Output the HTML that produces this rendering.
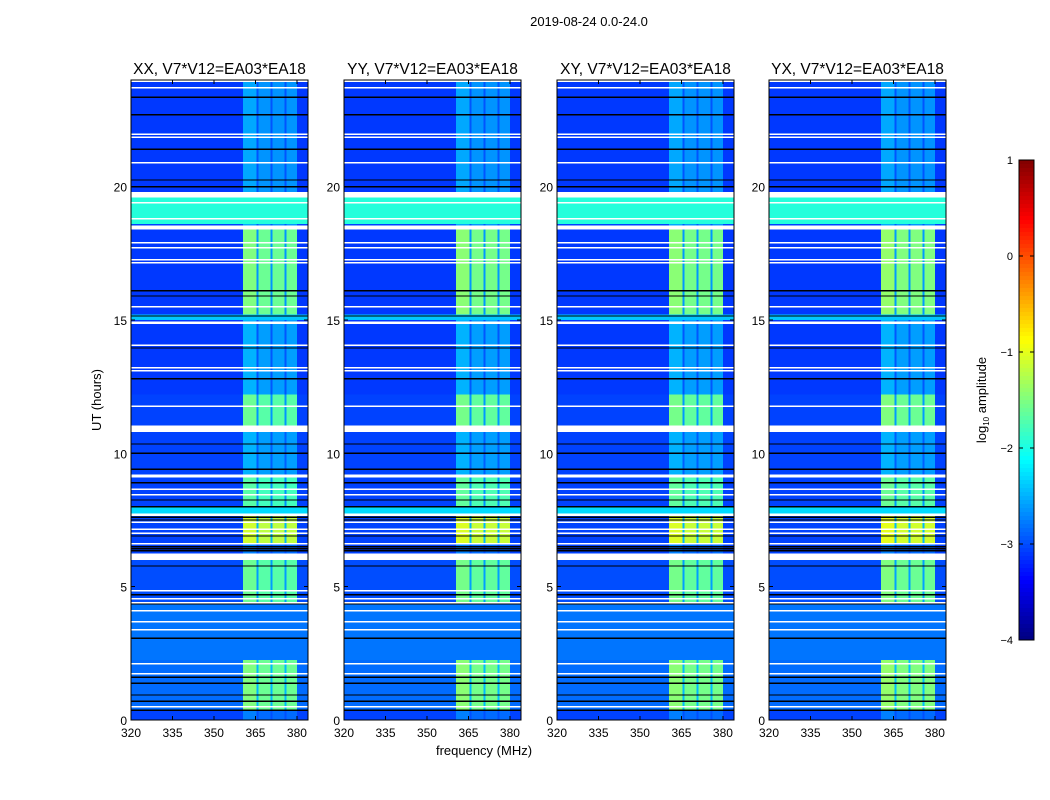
<!DOCTYPE html>
<html><head><meta charset="utf-8">
<style>
body{margin:0;background:#fff;font-family:"Liberation Sans",sans-serif;}
#root{position:relative;width:1050px;height:800px;overflow:hidden;background:#fff;}
svg text{font-family:"Liberation Sans",sans-serif;}
</style></head>
<body>
<div id="root">
<svg id="fig" width="1050" height="800" xmlns="http://www.w3.org/2000/svg" shape-rendering="crispEdges"></svg>
</div>
<script>
// ---- data ----
const panelTitles = ["XX, V7*V12=EA03*EA18","YY, V7*V12=EA03*EA18","XY, V7*V12=EA03*EA18","YX, V7*V12=EA03*EA18"];
const panelBandOffset = [0, 0.05, 0.05, 0.1];
const segStart = [19.6, 18.6, 18.4, 15.2, 15.0, 12.2, 10.9, 9.1, 8.0, 7.65, 6.6, 6.0, 4.4, 2.25, 0.35, 0];
const segEnd   = [24,   19.6, 18.6, 18.4, 15.2, 15.0, 12.2, 10.9, 9.1, 8.0, 7.65, 6.6, 6.0, 4.4, 2.25, 0.35];
const segBg    = [-3.1,-1.95,-3.05,-3.1,-2.4,-3.1,-3.05,-3.05,-3.05,-2.3,-3.05,-3.05,-3.0,-2.8,-2.85,-3.05];
const segBand  = [-2.65,-1.95,-2.65,-1.6,-2.4,-2.6,-1.7,-2.6,-1.8,-2.3,-1.2,-2.85,-1.7,-2.8,-1.6,-2.85];
const subBandLo = [360.5, 366.1, 371.2, 376.3];
const subBandHi = [365.3, 370.4, 375.5, 380.0];
const gapStart = [23.93,23.68,21.95,21.84,20.88,19.6,19.38,18.78,18.4,17.88,17.68,17.23,17.13,15.48,14.85,14.03,13.18,13.08,11.75,10.8,9.1,8.63,8.43,7.65,7.4,7.13,6.98,6.58,6.0,4.83,4.53,4.38,4.08,3.66,3.36,2.08,1.71,0.47];
const gapEnd   = [23.98,23.73,22.0,21.89,20.93,19.8,19.43,18.83,18.55,17.93,17.73,17.28,17.18,15.53,14.95,14.08,13.23,13.13,11.8,11.05,9.2,8.68,8.48,7.75,7.45,7.18,7.03,6.63,6.25,4.88,4.58,4.43,4.13,3.71,3.41,2.13,1.76,0.52];
const blackLines = [23.36,22.7,21.4,20.25,20.0,16.1,15.9,15.15,13.95,12.8,10.35,10.0,9.4,8.9,8.25,8.0,7.6,7.5,6.9,6.5,6.42,6.35,5.78,4.7,4.35,3.07,1.6,1.38,0.94,0.71,0.37];
const xTicks = [320,335,350,365,380];
const yTicks = [0,5,10,15,20];
const cbTicks = [1,0,-1,-2,-3,-4];

const NS="http://www.w3.org/2000/svg";
const svgRoot=document.getElementById('fig');
function el(tag,attrs,parent){const e=document.createElementNS(NS,tag);for(const k in attrs)e.setAttribute(k,attrs[k]);(parent||svgRoot).appendChild(e);return e;}
function jet(v){const t=Math.max(0,Math.min(1,(v+4)/5));const c=x=>Math.round(255*Math.max(0,Math.min(1,1.5-Math.abs(4*t-x))));return `rgb(${c(3)},${c(2)},${c(1)})`;}

const panelX=[131,344,557,769], pw=177, pTop=80, pBot=720;
const fMin=320, fMax=384, hMax=24;

function txt(x,y,s,size,anchor,parent){const t=el('text',{x:x,y:y,'font-size':size,'text-anchor':anchor||'middle',fill:'#000'},parent);t.textContent=s;return t;}

panelX.forEach((px,p)=>{
  const g=el('g',{});
  
  
  const fx=f=>px+(f-fMin)/(fMax-fMin)*pw;
  const hy=h=>pBot-(h/hMax)*(pBot-pTop);
  for(let i=0;i<segStart.length;i++){
    const y1=hy(segEnd[i]), y2=hy(segStart[i]);
    const r=el('rect',{x:px,y:y1,width:pw,height:y2-y1,fill:jet(segBg[i])},g);
    
    
    if(segBand[i]!==segBg[i]){
      const bl=segBand[i]+(segBand[i]>-2.4?panelBandOffset[p]:0);
      const nl=segBg[i]+0.3*(bl-segBg[i]);
      const n=el('rect',{x:fx(subBandLo[0]),y:y1,width:fx(subBandHi[3])-fx(subBandLo[0]),height:y2-y1,fill:jet(nl)},g);
      
      
      for(let k=0;k<subBandLo.length;k++){
        const c=el('rect',{x:fx(subBandLo[k]),y:y1,width:fx(subBandHi[k])-fx(subBandLo[k]),height:y2-y1,fill:jet(bl+(k===0?0.1:0))},g);
        
        
      }
    }
  }
  for(let i=0;i<gapStart.length;i++){
    const r=el('rect',{x:px,y:hy(gapEnd[i]),width:pw,height:Math.max(1.5,hy(gapStart[i])-hy(gapEnd[i])),fill:'#fff'},g);
    
    
  }
  for(let i=0;i<blackLines.length;i++){
    const r=el('rect',{x:px,y:hy(blackLines[i])-0.6,width:pw,height:1.3,fill:'#000'},g);
    
    
  }
  el('rect',{x:px,y:pTop,width:pw,height:pBot-pTop,fill:'none',stroke:'#000','stroke-width':1},g);
  xTicks.forEach(t=>{
    const x=fx(t);
    el('line',{x1:x,x2:x,y1:pBot,y2:pBot-4,stroke:'#000'},g);
    el('line',{x1:x,x2:x,y1:pTop,y2:pTop+4,stroke:'#000'},g);
    const l=txt(x,pBot+17,String(t),12,'middle',g);
    
    
  });
  yTicks.forEach(t=>{
    const y=hy(t);
    el('line',{x1:px,x2:px+4,y1:y,y2:y,stroke:'#000'},g);
    el('line',{x1:px+pw,x2:px+pw-4,y1:y,y2:y,stroke:'#000'},g);
    const l=txt(px-4,y+5,String(t),12,'end',g);
    
    
  });
  const tt=txt(px+pw/2,74,panelTitles[p],15.5,'middle',g);
  
  
});

// colorbar
const cb=el('g',{});


const cbx=1019,cbw=15,cbt=160,cbb=640;
for(let i=0;i<120;i++){
  const v=1-5*(i+0.5)/120;
  el('rect',{x:cbx,y:cbt+(cbb-cbt)*i/120,width:cbw,height:(cbb-cbt)/120+0.5,fill:jet(v)},cb);
}
el('rect',{x:cbx,y:cbt,width:cbw,height:cbb-cbt,fill:'none',stroke:'#000'},cb);
cbTicks.forEach(t=>{
  const y=cbt+(1-t)/5*(cbb-cbt);
  el('line',{x1:cbx,x2:cbx+4,y1:y,y2:y,stroke:'#000'},cb);
  el('line',{x1:cbx+cbw,x2:cbx+cbw-4,y1:y,y2:y,stroke:'#000'},cb);
  const l=txt(1013,y+4,t<0?'\u2212'+(-t):String(t),11,'end',cb);
  
  
});
const cl=el('text',{x:0,y:0,'font-size':13,'text-anchor':'middle',transform:'translate(986,400) rotate(-90)'});
cl.innerHTML='log<tspan font-size="8" dy="3">10</tspan><tspan dy="-3"> amplitude</tspan>';



const st=txt(589,26,'2019-08-24 0.0-24.0',13,'middle');


const xl=txt(484,755,'frequency (MHz)',13,'middle');


const yl=el('text',{x:0,y:0,'font-size':13,'text-anchor':'middle',transform:'translate(101,400) rotate(-90)'});
yl.textContent='UT (hours)';


</script>
</body></html>
